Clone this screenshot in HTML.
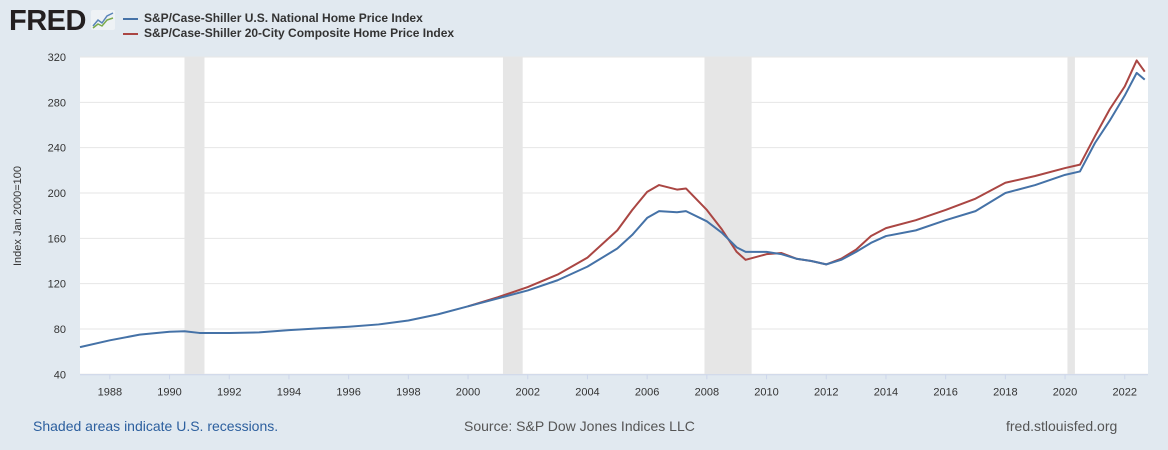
<!DOCTYPE html>
<html><head><meta charset="utf-8"><style>
body{margin:0;width:1168px;height:450px;background:#e1e9f0;font-family:"Liberation Sans",sans-serif;overflow:hidden;position:relative}
.t{position:absolute;white-space:nowrap}
</style></head><body>
<div class="t" style="left:9px;top:5px;font-size:29px;font-weight:900;color:#231f20;letter-spacing:-0.5px">FRED</div>
<svg class="t" style="left:91px;top:10px" width="24" height="20"><rect width="24" height="20" rx="2" fill="#eef2f5"/><polyline points="2,16 7,10 11,13 16,6 22,3" fill="none" stroke="#5a84b8" stroke-width="1.5"/><polyline points="2,18 7,14 11,16 16,10 22,8" fill="none" stroke="#7aaa4a" stroke-width="1.5"/></svg>
<div>
<div class="t" style="left:123px;top:11px;font-size:12px;font-weight:bold;color:#333"><span style="display:inline-block;width:15px;height:2px;background:#4572a7;vertical-align:middle;margin-right:6px"></span>S&amp;P/Case-Shiller U.S. National Home Price Index</div>
<div class="t" style="left:123px;top:26px;font-size:12px;font-weight:bold;color:#333"><span style="display:inline-block;width:15px;height:2px;background:#aa4643;vertical-align:middle;margin-right:6px"></span>S&amp;P/Case-Shiller 20-City Composite Home Price Index</div>
</div>
<svg id="chart" class="t" style="left:0;top:0" width="1168" height="450"></svg>
<div class="t" style="left:-42px;top:210px;font-size:11px;color:#333;transform:rotate(-90deg);width:120px;text-align:center">Index Jan 2000=100</div>
<div class="t" style="left:33px;top:418px;font-size:14px;color:#2c5f9e">Shaded areas indicate U.S. recessions.</div>
<div class="t" style="left:464px;top:418px;font-size:14px;color:#555">Source: S&amp;P Dow Jones Indices LLC</div>
<div class="t" style="left:1006px;top:418px;font-size:14px;color:#555">fred.stlouisfed.org</div>
<script>
const yTicks=[40,80,120,160,200,240,280,320];
const xTicks=[1988,1990,1992,1994,1996,1998,2000,2002,2004,2006,2008,2010,2012,2014,2016,2018,2020,2022];
const recessions=[[1990.5,1991.17],[2001.17,2001.83],[2007.92,2009.5],[2020.08,2020.33]];
const natT=[1987,1988,1989,1990,1990.5,1991,1992,1993,1994,1995,1996,1997,1998,1999,2000,2001,2002,2003,2004,2005,2005.5,2006,2006.4,2007,2007.3,2008,2008.5,2009,2009.3,2010,2010.5,2011,2011.5,2012,2012.5,2013,2013.5,2014,2015,2016,2017,2018,2019,2020,2020.5,2021,2021.5,2022,2022.4,2022.67];
const natV=[64,70,75,77.5,78,76.5,76.5,77,79,80.5,82,84,87.5,93,100,107,114,123,135,151,163,178,184,183,184,175,165,152,148,148,146,142,140,137,141,148,156,162,167,176,184,200,207,216,219,244,264,286,306,300];
const cityT=[2000,2001,2002,2003,2004,2005,2005.5,2006,2006.4,2007,2007.3,2008,2008.5,2009,2009.3,2010,2010.5,2011,2011.5,2012,2012.5,2013,2013.5,2014,2015,2016,2017,2018,2019,2020,2020.5,2021,2021.5,2022,2022.4,2022.67];
const cityV=[100,108,117,128,143,167,185,201,207,203,204,185,168,148,141,146,147,142,140,137,142,150,162,169,176,185,195,209,215,222,225,250,274,294,317,307];
const L=80,R=1148,T=57,B=374.3;
const x=t=>L+(t-1987)*29.85;
const y=v=>B-(v-40)*(B-T)/280;
const svg=document.getElementById('chart');
const NS='http://www.w3.org/2000/svg';
function mk(tag,a){const e=document.createElementNS(NS,tag);for(const k in a)e.setAttribute(k,a[k]);svg.appendChild(e);return e;}
const bg=mk('rect',{x:80,y:T,width:R-80,height:B-T,fill:'#fff'});


recessions.forEach(r=>{const e=mk('rect',{x:x(r[0]),y:T,width:x(r[1])-x(r[0]),height:B-T,fill:'#e6e6e6'});

});
yTicks.forEach(v=>{const g=mk('line',{x1:80,x2:R,y1:y(v),y2:y(v),stroke:'#e6e6e6','stroke-width':1});


const t=mk('text',{x:66,y:y(v)+4,'text-anchor':'end','font-size':11,fill:'#333','font-family':'Liberation Sans,sans-serif'});t.textContent=v;

});
const ax=mk('line',{x1:80,x2:R,y1:B+0.5,y2:B+0.5,stroke:'#ccd6eb'});


xTicks.forEach(v=>{const k=mk('line',{x1:x(v),x2:x(v),y1:B,y2:B+5,stroke:'#ccd6eb'});


const t=mk('text',{x:x(v),y:B+21,'text-anchor':'middle','font-size':11,fill:'#333','font-family':'Liberation Sans,sans-serif'});t.textContent=v;

});
function line(ts,vs,c,n){const p=mk('polyline',{points:ts.map((t,i)=>x(t)+','+y(vs[i])).join(' '),fill:'none',stroke:c,'stroke-width':2,'stroke-linejoin':'round'});

}
line(cityT,cityV,'#aa4643','series-20-city');
line(natT,natV,'#4572a7','series-national');
</script>
</body></html>
